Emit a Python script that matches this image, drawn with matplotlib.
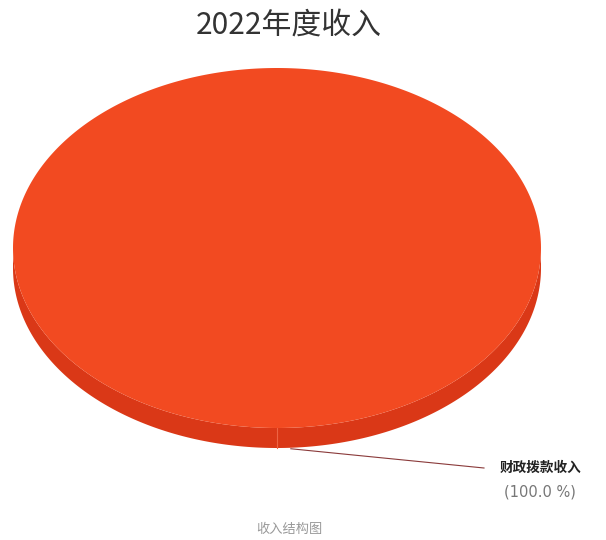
import numpy as np
import matplotlib
matplotlib.use('Agg')
import matplotlib.pyplot as plt
from matplotlib.patches import Polygon

plt.rcParams['font.family'] = ['Noto Sans CJK SC', 'DejaVu Sans']

# ─── DATA ────────────────────────────────────────────
title = '2022年度收入'
caption = '收入结构图'
categories = ['财政拨款收入']
values = [100.0]
top_colors = ['#F24A21']
side_colors = ['#DA3817']

# ─── PIE GEOMETRY (pixel space) ──────────────────────
cx, cy = 277, 248      # centre of the top face
rx, ry = 264, 180      # ellipse radii
depth = 20             # thickness of the 3d rim
start = -90            # first slice starts at the front (degrees)

fig = plt.figure(figsize=(6.06, 5.40), dpi=100)
ax = fig.add_axes([0, 0, 1, 1])
ax.set_xlim(0, 606)
ax.set_ylim(540, 0)
ax.axis('off')

fracs = np.array(values) / np.sum(values)
edges = start + np.concatenate([[0], np.cumsum(fracs) * 360])


def pt(a, dy=0):
    r = np.radians(a)
    return cx + rx * np.cos(r), cy - ry * np.sin(r) + dy


# rim first (only the front half is visible: angles -180..0, mod 360)
for i in range(len(values)):
    a0, a1 = edges[i], edges[i + 1]
    for k in (-360, 0, 360):
        lo, hi = max(a0, -180 + k), min(a1, k)
        if hi > lo:
            t = np.linspace(lo, hi, 200)
            upper = [pt(a) for a in t]
            lower = [pt(a, depth) for a in t[::-1]]
            ax.add_patch(Polygon(upper + lower, closed=True,
                                 facecolor=side_colors[i], edgecolor='none'))
    # seam line where the slice begins
    x0, y0 = pt(a0)
    if np.sin(np.radians(a0)) < 0:
        ax.plot([x0, x0], [y0, y0 + depth], color='#EE6444', lw=0.8)

# top faces
for i in range(len(values)):
    a0, a1 = edges[i], edges[i + 1]
    t = np.linspace(a0, a1, 400)
    verts = [pt(a) for a in t]
    if a1 - a0 < 360:
        verts = [(cx, cy)] + verts
    ax.add_patch(Polygon(verts, closed=True,
                         facecolor=top_colors[i], edgecolor='none'))

# ─── LABELS ──────────────────────────────────────────
for i, cat in enumerate(categories):
    a = edges[i] + 3
    x0, y0 = pt(a, depth)
    ax.plot([x0, x0 + 60, 484], [y0 + 1, y0 + 7, 468],
            color='#8a3a3a', lw=0.8)
    ax.text(500, 468, cat, fontsize=9.8, fontweight='bold',
            color='#222222', va='center', ha='left')
    ax.text(504, 492, f'({fracs[i] * 100:.1f} %)', fontsize=10.5,
            color='#777777', va='center', ha='left', family='DejaVu Sans')

ax.text(289, 25, title, fontsize=21.5, color='#333333',
        ha='center', va='center')
ax.text(289, 529, caption, fontsize=9.5, color='#999999',
        ha='center', va='center')

plt.savefig('out.png', dpi=100)
